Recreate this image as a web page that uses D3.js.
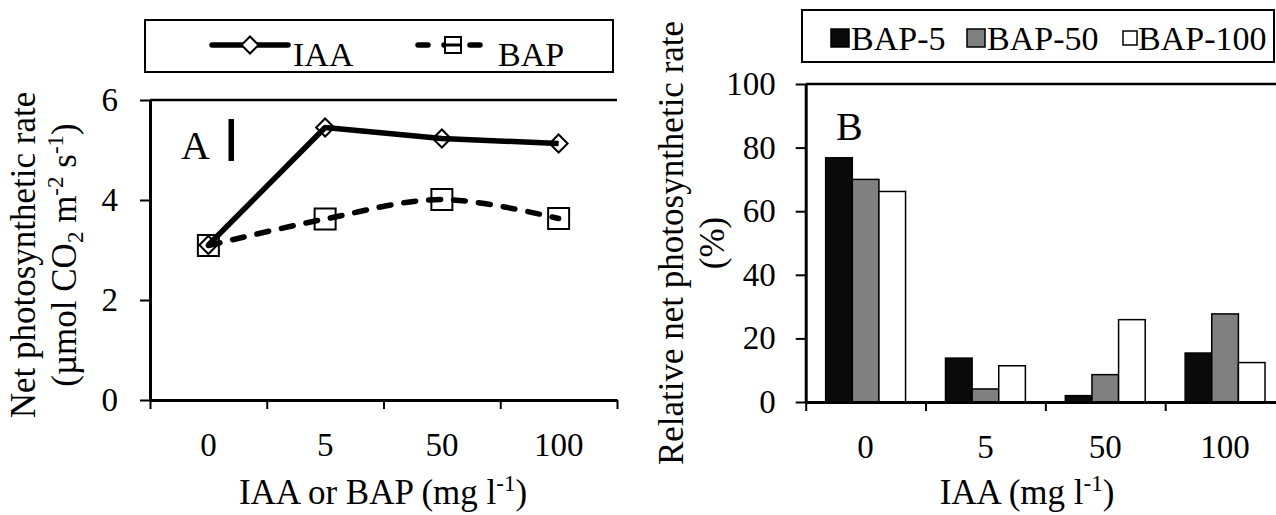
<!DOCTYPE html>
<html>
<head>
<meta charset="utf-8">
<script src="https://cdn.jsdelivr.net/npm/d3@7"></script>
<style>
  body { margin: 0; background: #fff; }
  text { font-family: "Liberation Serif", "Times New Roman", serif; fill: #000; }
</style>
</head>
<body>
<script>
const W = 1276, H = 515;

// panel A data
const doses = ["0", "5", "50", "100"];
const iaaRate = [3.1, 5.45, 5.23, 5.13];
const bapRate = [3.09, 3.62, 4.01, 3.63];
const rateTicks = [0, 2, 4, 6];

// panel B data
const iaaLevels = ["0", "5", "50", "100"];
const barSeries = ["BAP-5", "BAP-50", "BAP-100"];
const bap5 = [76.8, 13.8, 2.0, 15.4];
const bap50 = [70.0, 4.1, 8.6, 27.7];
const bap100 = [66.2, 11.4, 25.9, 12.4];
const pctTicks = [0, 20, 40, 60, 80, 100];

const barFill = {"BAP-5": "#0a0a0a", "BAP-50": "#808080", "BAP-100": "#ffffff"};

const svg = d3.select("body").append("svg")
  .attr("width", W).attr("height", H);

// ---------- panel A ----------
const xA = d3.scaleBand().domain(doses).range([150, 617]);
const xAedge = d3.scaleLinear().domain([0, doses.length]).range([150, 617]);
const yA = d3.scaleLinear().domain([0, 6]).range([400, 100]);

const gA = svg.append("g");

// top border
gA.append("line").attr("x1", 150).attr("x2", 617).attr("y1", 100).attr("y2", 100)
  .attr("stroke", "#000").attr("stroke-width", 2.5);

const yAxisA = gA.append("g").attr("transform", "translate(150,0)")
  .call(d3.axisLeft(yA).tickValues(rateTicks).tickFormat(d3.format("d"))
    .tickSize(10).tickSizeOuter(0).tickPadding(22));

const xEdgeA = gA.append("g").attr("transform", "translate(0,400)")
  .call(d3.axisBottom(xAedge).tickValues(d3.range(doses.length + 1)).tickFormat("").tickSize(9).tickSizeOuter(0));

const xLabA = gA.append("g").attr("transform", "translate(0,400)")
  .call(d3.axisBottom(xA).tickSize(0).tickPadding(33));
xLabA.select(".domain").remove();

[yAxisA, xEdgeA].forEach(a => {
  a.select(".domain").attr("stroke-width", 3);
  a.selectAll(".tick line").attr("stroke-width", 2);
});
gA.selectAll(".tick text").attr("font-size", 33).style("font-family", "Liberation Serif");

const iaaPts = doses.map((d, i) => [xA(d) + xA.bandwidth() / 2, yA(iaaRate[i])]);
const bapPts = doses.map((d, i) => [xA(d) + xA.bandwidth() / 2, yA(bapRate[i])]);

gA.append("path").attr("d", d3.line()(iaaPts))
  .attr("fill", "none").attr("stroke", "#000").attr("stroke-width", 5.5)
  .attr("stroke-linejoin", "round");

gA.append("path").attr("d", d3.line().curve(d3.curveCatmullRom)(bapPts))
  .attr("fill", "none").attr("stroke", "#000").attr("stroke-width", 5.5)
  .attr("stroke-dasharray", "12,13").attr("stroke-linecap", "round");

const diamond = s => `M0,${-s}L${s},0L0,${s}L${-s},0Z`;

gA.selectAll(".dia").data(iaaPts).enter().append("path")
  .attr("transform", d => `translate(${d[0]},${d[1]})`)
  .attr("d", diamond(9)).attr("fill", "none").attr("stroke", "#000").attr("stroke-width", 2);

gA.selectAll(".sq").data(bapPts).enter().append("rect")
  .attr("x", d => d[0] - 10.5).attr("y", d => d[1] - 10.5)
  .attr("width", 21).attr("height", 21)
  .attr("fill", "none").attr("stroke", "#000").attr("stroke-width", 2);

// panel letter and bar
gA.append("text").attr("x", 181).attr("y", 159).attr("font-size", 40).text("A");
gA.append("rect").attr("x", 228.5).attr("y", 119).attr("width", 5.5).attr("height", 42).attr("fill", "#000");

// legend A
gA.append("rect").attr("x", 145).attr("y", 20).attr("width", 468).attr("height", 52)
  .attr("fill", "none").attr("stroke", "#000").attr("stroke-width", 2);
gA.append("line").attr("x1", 212).attr("x2", 288).attr("y1", 45).attr("y2", 45)
  .attr("stroke", "#000").attr("stroke-width", 5.5).attr("stroke-linecap", "round");
gA.append("path").attr("transform", "translate(250,45)").attr("d", diamond(8.5))
  .attr("fill", "#fff").attr("stroke", "#000").attr("stroke-width", 2);
gA.append("text").attr("x", 293).attr("y", 66).attr("font-size", 34).text("IAA");
gA.append("line").attr("x1", 418).attr("x2", 485).attr("y1", 45).attr("y2", 45)
  .attr("stroke", "#000").attr("stroke-width", 5.5).attr("stroke-linecap", "round")
  .attr("stroke-dasharray", "10,16");
gA.append("rect").attr("x", 445).attr("y", 37).attr("width", 16).attr("height", 16)
  .attr("fill", "#fff").attr("stroke", "#000").attr("stroke-width", 2);
gA.append("line").attr("x1", 445).attr("x2", 461).attr("y1", 45).attr("y2", 45)
  .attr("stroke", "#000").attr("stroke-width", 3);
gA.append("text").attr("x", 498).attr("y", 66).attr("font-size", 34).text("BAP");

// axis titles A
gA.append("text").attr("transform", "translate(35,255) rotate(-90)")
  .attr("text-anchor", "middle").attr("font-size", 35).text("Net photosynthetic rate");
const ytA2 = gA.append("text").attr("transform", "translate(76,255) rotate(-90)")
  .attr("text-anchor", "middle").attr("font-size", 35);
ytA2.append("tspan").text("(µmol CO");
ytA2.append("tspan").attr("font-size", 23).attr("dy", 7).text("2");
ytA2.append("tspan").attr("dy", -7).text(" m");
ytA2.append("tspan").attr("font-size", 23).attr("dy", -13).text("-2");
ytA2.append("tspan").attr("dy", 13).text(" s");
ytA2.append("tspan").attr("font-size", 23).attr("dy", -13).text("-1");
ytA2.append("tspan").attr("dy", 13).text(")");

const xtA = gA.append("text").attr("x", 383).attr("y", 504)
  .attr("text-anchor", "middle").attr("font-size", 35);
xtA.append("tspan").text("IAA or BAP (mg l");
xtA.append("tspan").attr("font-size", 23).attr("dy", -13).text("-1");
xtA.append("tspan").attr("dy", 13).text(")");

// ---------- panel B ----------
const xB = d3.scaleBand().domain(iaaLevels).range([805.7, 1285]).paddingInner(1.5 / 4.5).paddingOuter(0.75 / 4.5);
const xBband = d3.scaleBand().domain(iaaLevels).range([805.7, 1285]);
const xBedge = d3.scaleLinear().domain([0, iaaLevels.length]).range([805.7, 1285]);
const xBin = d3.scaleBand().domain(barSeries).range([0, xB.bandwidth()]);
const yB = d3.scaleLinear().domain([0, 100]).range([402, 84]);

const gB = svg.append("g");

gB.append("line").attr("x1", 805.7).attr("x2", 1285).attr("y1", 84).attr("y2", 84)
  .attr("stroke", "#000").attr("stroke-width", 2.5);

const seriesVals = {"BAP-5": bap5, "BAP-50": bap50, "BAP-100": bap100};
const barData = [];
iaaLevels.forEach((lv, i) => barSeries.forEach(s => barData.push({lv, s, v: seriesVals[s][i]})));

gB.selectAll(".bar").data(barData).enter().append("rect")
  .attr("x", d => xB(d.lv) + xBin(d.s))
  .attr("y", d => yB(d.v))
  .attr("width", xBin.bandwidth())
  .attr("height", d => yB(0) - yB(d.v))
  .attr("fill", d => barFill[d.s])
  .attr("stroke", "#000").attr("stroke-width", 1.5);

const yAxisB = gB.append("g").attr("transform", "translate(805.7,0)")
  .call(d3.axisLeft(yB).tickValues(pctTicks).tickSize(10).tickSizeOuter(0).tickPadding(20));

const xEdgeB = gB.append("g").attr("transform", "translate(0,402)")
  .call(d3.axisBottom(xBedge).tickValues(d3.range(iaaLevels.length + 1)).tickFormat("").tickSize(9).tickSizeOuter(0));

const xLabB = gB.append("g").attr("transform", "translate(0,402)")
  .call(d3.axisBottom(xBband).tickSize(0).tickPadding(33));
xLabB.select(".domain").remove();

[yAxisB, xEdgeB].forEach(a => {
  a.select(".domain").attr("stroke-width", 3);
  a.selectAll(".tick line").attr("stroke-width", 2);
});
gB.selectAll(".tick text").attr("font-size", 33).style("font-family", "Liberation Serif");

gB.append("text").attr("x", 836).attr("y", 140).attr("font-size", 40).text("B");

// legend B
gB.append("rect").attr("x", 802).attr("y", 10).attr("width", 472).attr("height", 52)
  .attr("fill", "none").attr("stroke", "#000").attr("stroke-width", 2);
const legB = [
  {s: "BAP-5", sx: 831, tx: 851, sz: 18},
  {s: "BAP-50", sx: 967, tx: 987, sz: 18},
  {s: "BAP-100", sx: 1123, tx: 1138, sz: 14}
];
legB.forEach(d => {
  gB.append("rect").attr("x", d.sx).attr("y", 38 - d.sz / 2).attr("width", d.sz).attr("height", d.sz)
    .attr("fill", barFill[d.s]).attr("stroke", "#000").attr("stroke-width", 1.5);
  gB.append("text").attr("x", d.tx).attr("y", 50).attr("font-size", 34).text(d.s);
});

// axis titles B
gB.append("text").attr("transform", "translate(683,243) rotate(-90)")
  .attr("text-anchor", "middle").attr("font-size", 35).text("Relative net photosynthetic rate");
gB.append("text").attr("transform", "translate(724,243) rotate(-90)")
  .attr("text-anchor", "middle").attr("font-size", 35).text("(%)");

const xtB = gB.append("text").attr("x", 1027).attr("y", 504)
  .attr("text-anchor", "middle").attr("font-size", 35);
xtB.append("tspan").text("IAA (mg l");
xtB.append("tspan").attr("font-size", 23).attr("dy", -13).text("-1");
xtB.append("tspan").attr("dy", 13).text(")");
</script>
</body>
</html>
